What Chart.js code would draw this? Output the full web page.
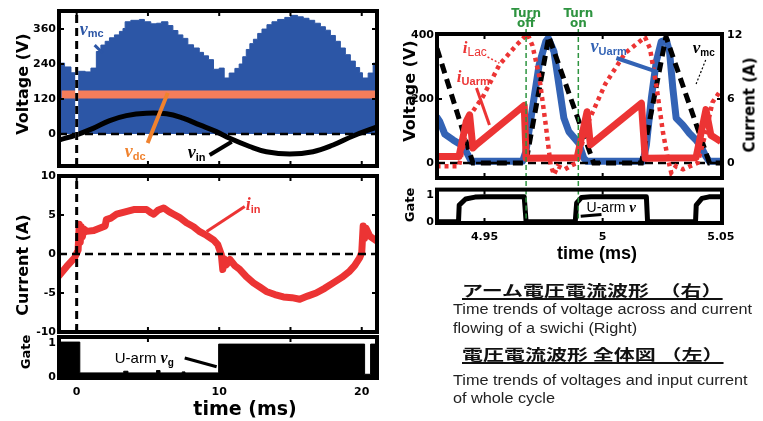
<!DOCTYPE html>
<html>
<head>
<meta charset="utf-8">
<script src="https://cdn.jsdelivr.net/npm/chart.js@4.4.1/dist/chart.umd.min.js"></script>
<style>
  html, body { margin: 0; padding: 0; background: #fff; }
  #fig { position: relative; width: 763px; height: 421px; overflow: hidden; }
  canvas { position: absolute; }
  .ttl { position: absolute; font-family: 'DejaVu Sans', sans-serif; font-weight: bold; white-space: nowrap; line-height: 1; color: #000; }
  .rot { transform: translate(-50%, -50%) rotate(-90deg); }
  .hz { transform: translate(-50%, -50%); }
  .jp { position: absolute; font: bold 15px 'Noto Sans CJK JP', sans-serif; line-height: 15px; white-space: nowrap; color: #111;
        transform: scaleX(1.4); transform-origin: 0 0; text-decoration: underline; text-underline-offset: 2px; text-decoration-thickness: 1.5px; }
  .en { position: absolute; font: 14px 'Liberation Sans', sans-serif; line-height: 14px; white-space: nowrap; color: #222;
        transform: scaleX(1.16); transform-origin: 0 0; }
</style>
</head>
<body>
<div id="fig">
  <canvas id="cA" width="390" height="180" style="left:0;top:0"></canvas>
  <canvas id="cB" width="390" height="180" style="left:0;top:165px"></canvas>
  <canvas id="cC" width="390" height="96" style="left:0;top:325px"></canvas>
  <canvas id="cD" width="368" height="192" style="left:395px;top:0"></canvas>
  <canvas id="cE" width="368" height="90" style="left:395px;top:180px"></canvas>

  <div class="ttl rot" style="left:23px;top:84px;font-size:16px">Voltage (V)</div>
  <div class="ttl rot" style="left:23px;top:265px;font-size:16px">Current (A)</div>
  <div class="ttl rot" style="left:25px;top:352px;font-size:13px">Gate</div>
  <div class="ttl hz" style="left:245px;top:408px;font-size:19px">time (ms)</div>
  <div class="ttl rot" style="left:410px;top:91px;font-size:16px">Voltage (V)</div>
  <div class="ttl rot" style="left:750px;top:105px;font-size:15px">Current (A)</div>
  <div class="ttl rot" style="left:409px;top:205px;font-size:13px">Gate</div>
  <div class="ttl hz" style="left:597px;top:253px;font-size:18px;font-family:'Liberation Sans',sans-serif">time (ms)</div>

  <div class="jp" style="left:462px;top:282px">アーム電圧電流波形&#8194;（右）</div>
  <div class="en" style="left:453px;top:302px">Time trends of voltage across and current</div>
  <div class="en" style="left:453px;top:321px">flowing of a swichi (Right)</div>
  <div class="jp" style="left:462px;top:346px">電圧電流波形 全体図 （左）</div>
  <div class="en" style="left:453px;top:373px">Time trends of voltages and input current</div>
  <div class="en" style="left:453px;top:391px">of whole cycle</div>
</div>
<script>
// ---- left column: whole cycle, time in ms ----
const leftRange = [-1.24, 21.07];
// top of the switching v_mc, held until the next point
const vmcEnvelope = [[-1.24,243],[-0.85,230],[-0.4,210],[0.1,215],[0.6,213],[1.0,226],[1.38,283],[1.7,305],[2.0,318],
  [2.3,330],[2.65,340],[3.0,352],[3.25,362],[3.4,385],[3.8,390],[4.4,393],[4.75,385],[5.2,378],[5.6,380],[5.95,385],
  [6.4,372],[6.75,355],[7.1,340],[7.45,328],[7.8,306],[8.2,295],[8.6,280],[8.9,268],[9.25,255],[9.6,222],[10.0,226],
  [10.35,192],[10.7,209],[11.1,225],[11.4,240],[11.65,265],[11.9,290],[12.15,310],[12.4,325],[12.7,345],[13.0,360],
  [13.35,375],[13.7,385],[14.1,393],[14.6,400],[15.0,407],[15.5,402],[15.9,397],[16.3,390],[16.7,380],[17.1,368],
  [17.45,356],[17.8,338],[18.15,318],[18.5,295],[18.85,272],[19.2,250],[19.55,228],[19.85,210],[20.05,192],
  [20.45,209],[20.8,243],[20.95,232],[21.07,232]];
const vinCurve = [[-1.24,-21],[0,-3],[1.15,19],[2.32,46],[3.49,63],[4.89,71],[6.3,69],[7.46,54],[8.63,31],[9.8,8],
  [10.74,-15],[12.14,-43],[13.31,-61],[14.95,-69],[16.58,-61],[17.99,-38],[19.39,-7],[21.07,24]];
const vdcLevel = 135;
const vdcSpan = [-1.05, 20.94];
const iinCurve = [[-1.3,-2.9],[-0.7,-1.6],[-0.15,-0.5],[0.1,0.5],[0.18,3.8],[0.25,1.5],[0.32,3.5],[0.4,2.2],[0.5,3.2],
  [0.7,2.9],[1.2,3.0],[1.6,3.3],[2.0,3.6],[2.08,4.4],[2.4,4.6],[2.8,5.1],[3.4,5.4],[4.0,5.7],[4.9,5.7],[5.2,5.3],
  [5.4,5.1],[5.7,5.6],[6.1,5.9],[6.5,5.4],[6.8,5.1],[7.2,4.7],[7.7,4.0],[8.2,3.5],[8.6,2.9],[9.1,2.4],[9.6,1.8],
  [9.9,1.2],[10.15,-0.1],[10.25,-2.0],[10.35,-0.6],[10.5,-1.4],[10.75,-0.7],[11.1,-1.5],[11.45,-2.0],[11.9,-2.9],
  [12.4,-3.7],[12.9,-4.3],[13.3,-4.8],[13.9,-5.2],[14.5,-5.5],[15.1,-5.6],[15.65,-5.8],[16.2,-5.4],[16.8,-5.0],
  [17.4,-4.4],[18.0,-3.7],[18.6,-3.0],[19.15,-2.2],[19.5,-1.5],[19.85,-0.5],[20.0,0.2],[20.1,3.6],[20.2,2.0],
  [20.3,3.3],[20.56,2.3],[21.1,1.6]];
const gateLeft = [[-1.24,1.03],[0.22,0.12],[3.3,0.17],[3.6,0.12],[5.6,0.19],[5.85,0.12],[7.4,0.15],[7.6,0.12],
  [9.96,0.97],[20.2,0.08],[20.62,0.97],[21.07,0.97]];
const leftVoltTicks = [0, 120, 240, 360];
const leftCurrTicks = [-10, -5, 0, 5, 10];
const leftTimeTicks = [0, 10, 20];
const gateTicks = [0, 1];

// ---- right column: one switching period, time in ms ----
const rightRange = [4.9299, 5.0505];
const vUarm = [[4.9297,145],[4.9311,129],[4.9332,90],[4.9367,72],[4.9402,56],[4.9423,35],[4.9444,5],[4.9661,5],
  [4.9675,35],[4.9703,171],[4.9731,306],[4.9759,379],[4.9770,390],[4.9794,348],[4.9815,244],[4.9836,140],[4.9857,98],
  [4.9878,80],[4.9899,62],[4.9920,15],[4.9934,5],[5.0171,5],[5.0185,56],[5.0206,202],[5.0227,317],[5.0248,379],
  [5.0269,384],[5.0283,348],[5.0297,233],[5.0311,140],[5.0339,119],[5.0367,93],[5.0395,72],[5.0416,51],[5.0437,20],
  [5.0451,5],[5.0505,5]];
const vmcRight = [[4.9299,358],[4.9451,0],[4.9675,0],[4.9772,395],[4.9962,0],[5.0164,0],[5.0268,395],[5.0452,0],[5.0505,0]];
const iUarm = [[4.9297,0.6],[4.9392,0.6],[4.9423,3.9],[4.9437,4.5],[4.9451,1.4],[4.9465,1.7],[4.9668,5.4],[4.9676,0.45],
  [4.9892,0.5],[4.9934,4.8],[4.9948,1.7],[5.0164,5.6],[5.0180,0.45],[5.0395,0.5],[5.0437,5.0],[5.0458,2.6],
  [5.0479,2.3],[5.0500,2.0]];
const iLac = [[4.9297,-0.3],[4.9392,-0.3],[4.9437,4.4],[4.9493,6.2],[4.9563,9.2],[4.9633,11.0],[4.9682,12.1],
  [4.9703,11.0],[4.9731,8.2],[4.9759,3.6],[4.9780,-0.2],[4.9794,-1.1],[4.9810,-0.3],[4.9840,-0.6],[4.9870,-0.2],
  [4.9892,0],[4.9934,3.6],[5.0011,7.4],[5.0095,10.3],[5.0179,11.8],[5.0200,10.75],[5.0227,7.3],[5.0255,2.9],
  [5.0276,0.4],[5.0290,-0.9],[5.0310,-0.3],[5.0340,-0.6],[5.0370,-0.3],[5.0402,0],[5.0437,2.9],[5.0465,5.7],[5.0493,6.6]];
const gateRight = [[4.9297,0],[4.9390,0],[4.9393,0.62],[4.9420,0.85],[4.9460,0.92],[4.9500,0.93],[4.9668,0.93],
  [4.9676,0],[4.9884,0],[4.9890,0.7],[4.9910,0.9],[4.9950,0.93],[5.0185,0.93],[5.0190,0],[5.0393,0],[5.0396,0.62],
  [5.0420,0.87],[5.0450,0.93],[5.0505,0.93]];
const turnOff = 4.9676, turnOn = 4.9897;
const rightVoltTicks = [0, 200, 400];
const rightCurrTicks = [0, 6, 12];
const rightTimeTicks = [4.95, 5, 5.05];

const BLUE = '#2c56a6', BLUE2 = '#3363b5', RED = '#ec3434', ORANGE = '#f47d5b', ORANGE2 = '#f0822e', GREEN = '#2e9440';
const tickFont = { family: "'DejaVu Sans', sans-serif", size: 11, weight: 'bold' };
const vItalic = s => `italic bold ${s}px 'Liberation Serif', serif`;
const sub = s => `bold ${s}px 'Liberation Sans', sans-serif`;

Chart.defaults.color = '#000';
Chart.defaults.animation = false;
Chart.defaults.plugins.legend.display = false;
Chart.defaults.plugins.tooltip.enabled = false;

function line(pairs, color, width, extra) {
  return Object.assign({
    data: pairs.map(([x, y]) => ({ x, y })),
    borderColor: color, borderWidth: width, pointRadius: 0, fill: false, tension: 0
  }, extra || {});
}

function hiddenX(r) { return { type: 'linear', min: r[0], max: r[1], display: false }; }

function shownX(r, ticks, height) {
  return {
    type: 'linear', min: r[0], max: r[1],
    grid: { display: false, drawTicks: false }, border: { display: false },
    ticks: { font: tickFont, padding: 8, maxRotation: 0, autoSkip: false, callback: v => String(v) },
    afterBuildTicks: s => { s.ticks = ticks.map(value => ({ value })); },
    afterFit: s => { s.height = height; }
  };
}

function yAxis(min, max, ticks, width, position, pad) {
  return {
    type: 'linear', position: position || 'left', min, max,
    grid: { display: false, drawTicks: false }, border: { display: false },
    ticks: { font: tickFont, padding: pad || 3, autoSkip: false, callback: v => String(v) },
    afterBuildTicks: s => { s.ticks = ticks.map(value => ({ value })); },
    afterFit: s => { s.width = width; }
  };
}

// thick box around the plot with short inward ticks
function frame(o) {
  return {
    id: 'frame',
    afterDatasetsDraw(chart) {
      const { ctx, chartArea: a, scales } = chart;
      const t = 5;
      ctx.save();
      ctx.strokeStyle = '#000';
      ctx.setLineDash([]);
      ctx.lineWidth = 2;
      ctx.beginPath();
      (o.xTicks || []).forEach(v => {
        const px = scales.x.getPixelForValue(v);
        ctx.moveTo(px, a.bottom); ctx.lineTo(px, a.bottom - t);
        ctx.moveTo(px, a.top); ctx.lineTo(px, a.top + t);
      });
      (o.yTicks || []).forEach(v => {
        const py = scales.y.getPixelForValue(v);
        ctx.moveTo(a.left, py); ctx.lineTo(a.left + t, py);
        ctx.moveTo(a.right, py); ctx.lineTo(a.right - t, py);
      });
      ctx.stroke();
      ctx.lineWidth = 4;
      ctx.strokeRect(a.left, a.top, a.right - a.left, a.bottom - a.top);
      ctx.restore();
    }
  };
}

// labels and pointer lines, placed in data units
function notes(o) {
  return {
    id: 'notes',
    afterDatasetsDraw(chart) {
      const { ctx, scales } = chart;
      const X = v => scales.x.getPixelForValue(v), Y = v => scales.y.getPixelForValue(v);
      ctx.save();
      (o.lines || []).forEach(l => {
        ctx.beginPath();
        ctx.strokeStyle = l.color; ctx.lineWidth = l.width; ctx.setLineDash(l.dash || []);
        ctx.lineCap = 'butt';
        ctx.moveTo(X(l.from[0]), Y(l.from[1]));
        ctx.lineTo(X(l.to[0]), Y(l.to[1]));
        ctx.stroke();
      });
      ctx.setLineDash([]);
      (o.labels || []).forEach(lb => {
        let x = X(lb.at[0]);
        const y = Y(lb.at[1]);
        ctx.fillStyle = lb.color;
        ctx.textAlign = lb.align || 'left';
        ctx.textBaseline = 'alphabetic';
        lb.parts.forEach(p => {
          ctx.font = p.font;
          ctx.fillText(p.text, x, y + (p.dy || 0));
          x += ctx.measureText(p.text).width;
        });
      });
      ctx.restore();
    }
  };
}

const baseOpts = (padding, scales) => ({ responsive: false, layout: { padding }, scales });

// top left: voltages
new Chart(document.getElementById('cA'), {
  type: 'line',
  data: { datasets: [   // first dataset is drawn on top
    line([[0, -110], [0, 422]], '#000', 3, { borderDash: [8, 5] }),
    line([[0, -110], [0, 422]], '#fff', 3),
    line([[leftRange[0], 0], [leftRange[1], 0]], '#000', 2.5, { borderDash: [8, 5] }),
    line(vinCurve, '#000', 5, { tension: 0.4 }),
    line([[vdcSpan[0], vdcLevel], [vdcSpan[1], vdcLevel]], ORANGE, 8),
    line(vmcEnvelope, BLUE, 1, { stepped: true, fill: 'origin', backgroundColor: BLUE })
  ] },
  options: baseOpts({ top: 11, right: 13, bottom: 14, left: 0 },
    { x: hiddenX(leftRange), y: yAxis(-110, 422, leftVoltTicks, 59) }),
  plugins: [frame({ xTicks: [0, 5, 10, 15, 20], yTicks: [120, 240, 360] }), notes({
    lines: [
      { from: [1.26, 305], to: [1.82, 278], color: BLUE, width: 3 },
      { from: [4.98, -31], to: [6.39, 141], color: ORANGE2, width: 4 },
      { from: [9.33, -72], to: [10.88, -27], color: '#000', width: 4 }
    ],
    labels: [
      { at: [0.21, 339], color: BLUE, parts: [{ text: 'v', font: vItalic(18) }, { text: 'mc', font: sub(11), dy: 2 }] },
      { at: [3.37, -79], color: ORANGE2, parts: [{ text: 'v', font: vItalic(18) }, { text: 'dc', font: sub(11), dy: 3 }] },
      { at: [7.79, -82], color: '#000', parts: [{ text: 'v', font: vItalic(18) }, { text: 'in', font: sub(11), dy: 3 }] }
    ]
  })]
});

// middle left: input current
new Chart(document.getElementById('cB'), {
  type: 'line',
  data: { datasets: [
    line([[0, -10], [0, 10]], '#000', 3, { borderDash: [8, 5] }),
    line([[leftRange[0], 0], [leftRange[1], 0]], '#000', 2.5, { borderDash: [8, 5] }),
    line(iinCurve, RED, 7, { borderJoinStyle: 'round' })
  ] },
  options: baseOpts({ top: 11, right: 13, bottom: 13, left: 0 },
    { x: hiddenX(leftRange), y: yAxis(-10, 10, leftCurrTicks, 59) }),
  plugins: [frame({ xTicks: [0, 5, 10, 15, 20], yTicks: [-5, 5] }), notes({
    lines: [{ from: [11.79, 6.09], to: [9.12, 2.87], color: RED, width: 3 }],
    labels: [{ at: [11.86, 5.7], color: RED, parts: [{ text: 'i', font: vItalic(18) }, { text: 'in', font: sub(11), dy: 3 }] }]
  })]
});

// bottom left: gate
new Chart(document.getElementById('cC'), {
  type: 'line',
  data: { datasets: [
    line(gateLeft, '#000', 1, { stepped: true, fill: 'origin', backgroundColor: '#000' })
  ] },
  options: baseOpts({ top: 12, right: 13, bottom: 0, left: 0 },
    { x: shownX(leftRange, leftTimeTicks, 43), y: yAxis(-0.03, 1.18, gateTicks, 59) }),
  plugins: [frame({ xTicks: [5, 15] }), notes({
    lines: [{ from: [7.58, 0.56], to: [9.82, 0.30], color: '#000', width: 3 }],
    labels: [{ at: [2.67, 0.41], color: '#000', parts: [
      { text: 'U-arm ', font: "15px 'Liberation Sans', sans-serif" },
      { text: 'v', font: vItalic(16) }, { text: 'g', font: sub(10), dy: 3 }] }]
  })]
});

// top right: arm voltage and currents
new Chart(document.getElementById('cD'), {
  type: 'line',
  data: { datasets: [
    line([[turnOff, 419], [turnOff, -75]], GREEN, 1.5, { borderDash: [5, 3], clip: false }),
    line([[turnOn, 419], [turnOn, -75]], GREEN, 1.5, { borderDash: [5, 3], clip: false }),
    line(iUarm, RED, 7, { yAxisID: 'y1', borderJoinStyle: 'round' }),
    line(iLac, RED, 4.5, { yAxisID: 'y1', borderDash: [4, 4] }),
    line(vmcRight, '#000', 5, { borderDash: [10, 6] }),
    line([[rightRange[0], 0], [rightRange[1], 0]], '#000', 2.5, { borderDash: [8, 5] }),
    line(vUarm, BLUE2, 7, { borderJoinStyle: 'round' })
  ] },
  options: baseOpts({ top: 34, right: 0, bottom: 14, left: 0 }, {
    x: hiddenX(rightRange),
    y: yAxis(-47, 403, rightVoltTicks, 42),
    y1: yAxis(-1.41, 12.09, rightCurrTicks, 41, 'right', 5)
  }),
  plugins: [frame({ xTicks: [4.95, 5], yTicks: [200] }), notes({
    lines: [
      { from: [4.9513, 331], to: [4.9563, 312], color: RED, width: 1.5, dash: [2, 2] },
      { from: [4.9466, 234], to: [4.9521, 119], color: RED, width: 3 },
      { from: [5.0058, 328], to: [5.0234, 284], color: BLUE2, width: 4 },
      { from: [5.0436, 322], to: [5.0394, 244], color: '#000', width: 1.2, dash: [2, 2] }
    ],
    labels: [
      { at: [4.9408, 344], color: RED, parts: [{ text: 'i', font: vItalic(17) }, { text: 'Lac', font: "12px 'Liberation Sans', sans-serif", dy: 3 }] },
      { at: [4.9383, 253], color: RED, parts: [{ text: 'i', font: vItalic(17) }, { text: 'Uarm', font: sub(11), dy: 3 }] },
      { at: [4.9949, 347], color: BLUE2, parts: [{ text: 'v', font: vItalic(18) }, { text: 'Uarm', font: sub(11), dy: 3 }] },
      { at: [5.0381, 344], color: '#000', parts: [{ text: 'v', font: vItalic(17) }, { text: 'mc', font: sub(10), dy: 3 }] },
      { at: [turnOff, 456], color: GREEN, align: 'center', parts: [{ text: 'Turn', font: "bold 12px 'DejaVu Sans', sans-serif" }] },
      { at: [turnOff, 425], color: GREEN, align: 'center', parts: [{ text: 'off', font: "bold 12px 'DejaVu Sans', sans-serif" }] },
      { at: [turnOn, 456], color: GREEN, align: 'center', parts: [{ text: 'Turn', font: "bold 12px 'DejaVu Sans', sans-serif" }] },
      { at: [turnOn, 425], color: GREEN, align: 'center', parts: [{ text: 'on', font: "bold 12px 'DejaVu Sans', sans-serif" }] }
    ]
  })]
});

// bottom right: gate
new Chart(document.getElementById('cE'), {
  type: 'line',
  data: { datasets: [
    line([[turnOff, 1.2], [turnOff, -0.05]], GREEN, 1.5, { borderDash: [5, 3] }),
    line([[turnOn, 1.2], [turnOn, -0.05]], GREEN, 1.5, { borderDash: [5, 3] }),
    line(gateRight, '#000', 5, { borderJoinStyle: 'round' })
  ] },
  options: baseOpts({ top: 7, right: 41, bottom: 0, left: 0 },
    { x: shownX(rightRange, rightTimeTicks, 47), y: yAxis(-0.05, 1.2, gateTicks, 42) }),
  plugins: [frame({ xTicks: [4.95, 5] }), notes({
    lines: [{ from: [4.9907, 0.2], to: [4.9995, 0.27], color: '#000', width: 3 }],
    labels: [{ at: [4.9932, 0.37], color: '#000', parts: [
      { text: 'U-arm ', font: "14px 'Liberation Sans', sans-serif" }, { text: 'v', font: vItalic(15) }] }]
  })]
});
</script>
</body>
</html>
